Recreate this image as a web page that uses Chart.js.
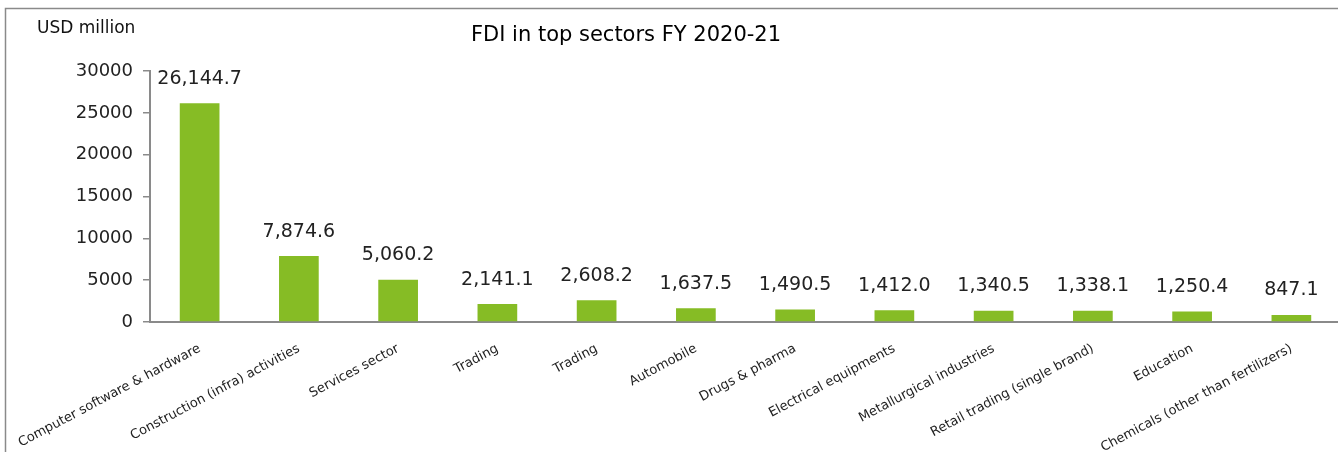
<!DOCTYPE html>
<html>
<head>
<meta charset="utf-8">
<script src="https://cdn.jsdelivr.net/npm/chart.js@4.4.1/dist/chart.umd.min.js"></script>
<style>
  body { margin: 0; overflow: hidden; background: #fff; }
  #wrap { width: 1345px; height: 452px; position: relative; }
</style>
</head>
<body>
<div id="wrap"><canvas id="barChart"></canvas></div>
<script>
const sectors = [
    "Computer software & hardware",
    "Construction (infra) activities",
    "Services sector",
    "Trading",
    "Trading",
    "Automobile",
    "Drugs & pharma",
    "Electrical equipments",
    "Metallurgical industries",
    "Retail trading (single brand)",
    "Education",
    "Chemicals (other than fertilizers)"
]
const fdiValues = [26144.7, 7874.6, 5060.2, 2141.1, 2608.2, 1637.5, 1490.5, 1412.0, 1340.5, 1338.1, 1250.4, 847.1]
const yTicks = [0, 5000, 10000, 15000, 20000, 25000, 30000]

const font = "'DejaVu Sans', sans-serif"

// frame + titles drawn on the canvas
const decor = {
    id: "decor",
    beforeDraw(chart) {
        const ctx = chart.ctx
        ctx.save()
        ctx.strokeStyle = "#8a8a8a"
        ctx.lineWidth = 1.5
        ctx.strokeRect(5.5, 8.5, chart.width + 20, chart.height + 20)
        ctx.fillStyle = "#111"
        ctx.textBaseline = "middle"
        ctx.textAlign = "left"
        ctx.font = `17px ${font}`
        ctx.fillText("USD million", 37, 29)
        ctx.textAlign = "center"
        ctx.fillStyle = "#000"
        ctx.font = `21px ${font}`
        ctx.fillText("FDI in top sectors FY 2020-21", 626, 36)
        ctx.restore()
    },
    afterDatasetsDraw(chart) {
        const ctx = chart.ctx
        const meta = chart.getDatasetMeta(0)
        ctx.save()
        ctx.fillStyle = "#222"
        ctx.font = `19px ${font}`
        ctx.textAlign = "center"
        ctx.textBaseline = "bottom"
        meta.data.forEach((bar, i) => {
            const txt = fdiValues[i].toLocaleString("en-US", {minimumFractionDigits: 1, maximumFractionDigits: 1})
            ctx.fillText(txt, bar.x, bar.y - 15)
        })
        ctx.restore()
    }
}

new Chart("barChart", {
    type: "bar",
    data: {
        labels: sectors,
        datasets: [{
            data: fdiValues,
            backgroundColor: "#86bc25",
            categoryPercentage: 1,
            barPercentage: 0.4
        }]
    },
    options: {
        responsive: true,
        maintainAspectRatio: false,
        animation: false,
        layout: {padding: {top: 71, right: 4, bottom: 0, left: 0}},
        plugins: {
            legend: {display: false},
            tooltip: {enabled: false}
        },
        scales: {
            x: {
                grid: {display: false, drawTicks: false},
                border: {display: true, color: "#8a8a8a", width: 2},
                ticks: {
                    color: "#222",
                    font: {family: font, size: 13},
                    minRotation: 28,
                    maxRotation: 28,
                    autoSkip: false,
                    padding: 19
                },
                afterFit: (scale) => {
                    scale.height = 130
                    scale.paddingLeft = 0
                    scale.paddingRight = 0
                }
            },
            y: {
                min: 0,
                max: 30000,
                afterBuildTicks: (scale) => { scale.ticks = yTicks.map(v => ({value: v})) },
                grid: {drawOnChartArea: false, drawTicks: true, tickLength: 7, color: "#8a8a8a", lineWidth: 1.5},
                border: {display: true, color: "#8a8a8a", width: 2},
                ticks: {
                    color: "#222",
                    font: {family: font, size: 18},
                    padding: 10,
                    callback: (v) => String(v)
                },
                afterFit: (scale) => { scale.width = 150 }
            }
        }
    },
    plugins: [decor]
})
</script>
</body>
</html>
